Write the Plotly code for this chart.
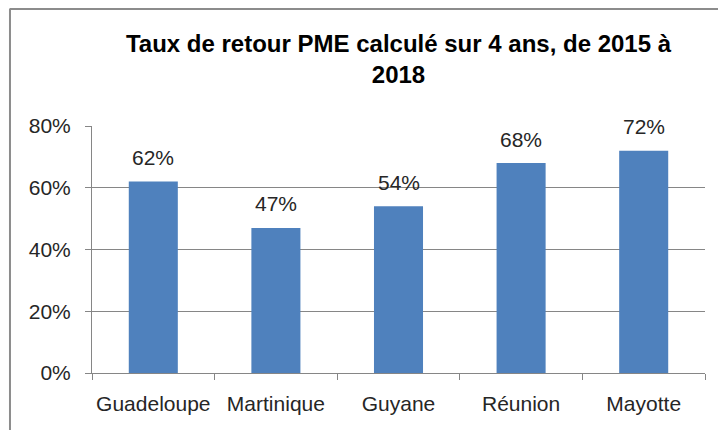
import plotly.graph_objects as go

categories = ["Guadeloupe", "Martinique", "Guyane", "Réunion", "Mayotte"]
values = [62, 47, 54, 68, 72]
y_ticks = [0, 20, 40, 60, 80]
y_tick_labels = ["0%", "20%", "40%", "60%", "80%"]
title_text = "Taux de retour PME calculé sur 4 ans, de 2015 à<br>2018"

FONT = "Liberation Sans"
GRID = "#868686"
TXT = "#262626"

fig = go.Figure()
fig.add_trace(go.Bar(
    x=categories, y=values,
    marker=dict(color="#4F81BD", line=dict(width=0)),
    hoverinfo="skip",
))

for c, v in zip(categories, values):
    fig.add_annotation(x=c, y=v, text=f"{v}%", showarrow=False,
                       yanchor="middle", yshift=24,
                       font=dict(family=FONT, size=21, color=TXT))

fig.update_layout(
    width=726, height=430,
    margin=dict(l=84, r=29, t=118, b=65, autoexpand=False),
    paper_bgcolor="white", plot_bgcolor="white",
    bargap=0.6,
    showlegend=False,
    title=dict(text=title_text, x=0.5, xref="paper", xanchor="center",
               y=1 - 44 / 430, yref="container", yanchor="middle",
               font=dict(family=FONT, size=24, color="black", weight="bold")),
    font=dict(family=FONT, size=21, color=TXT),
    shapes=[dict(type="line", xref="paper", yref="paper",
                 x0=-0.1338, x1=1.2, y0=(365 - 0.5) / 247, y1=(365 - 0.5) / 247,
                 line=dict(color="#8c8c8c", width=3)),
            dict(type="line", xref="paper", yref="paper",
                 x0=-0.1338, x1=-0.1338, y0=(365 - 0.5) / 247, y1=-0.5,
                 line=dict(color="#8c8c8c", width=2))],
)
fig.update_yaxes(range=[0, 80], tickvals=y_ticks, ticktext=y_tick_labels,
                 showgrid=True, gridcolor=GRID, gridwidth=1,
                 showline=True, linecolor=GRID, linewidth=1,
                 ticks="outside", ticklen=6, tickcolor=GRID,
                 ticklabelstandoff=10, automargin=False,
                 zeroline=False, tickfont=dict(size=21, color=TXT))
fig.update_xaxes(showline=True, linecolor=GRID, linewidth=1,
                 ticks="outside", ticklen=6, tickcolor=GRID,
                 tickson="boundaries", showgrid=False,
                 ticklabelstandoff=12, tickangle=0, automargin=False,
                 tickfont=dict(size=21, color=TXT))

fig.write_html("out.html")
